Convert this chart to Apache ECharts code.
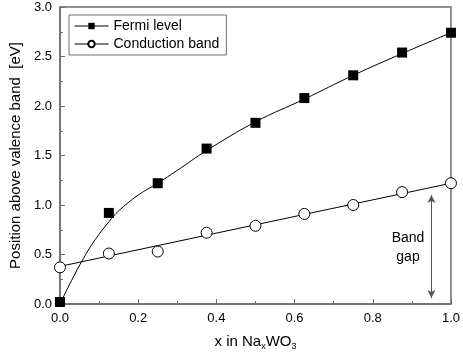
<!DOCTYPE html>
<html>
<head>
<meta charset="utf-8">
<script src="https://cdn.jsdelivr.net/npm/echarts@6/dist/echarts.min.js"></script>
<style>
  html, body { margin: 0; padding: 0; background: #fff; }
  #chart { width: 463px; height: 356px; }
</style>
</head>
<body>
<div id="chart"></div>
<script>
// measured points
var xValues = [0, 0.125, 0.25, 0.375, 0.5, 0.625, 0.75, 0.875, 1.0];
var fermiLevel = [0.02, 0.92, 1.22, 1.57, 1.83, 2.08, 2.31, 2.54, 2.74];
var conductionBand = [0.37, 0.51, 0.53, 0.72, 0.79, 0.91, 1.0, 1.13, 1.22];

// fitted curves
var fermiFitX = [0, 0.03, 0.06, 0.09, 0.125, 0.15, 0.2, 0.25, 0.3, 0.375, 0.5, 0.625, 0.75, 0.875, 1.0];
var fermiFitY = [0, 0.24, 0.46, 0.65, 0.83, 0.94, 1.1, 1.22, 1.35, 1.55, 1.84, 2.07, 2.31, 2.53, 2.74];
var condFitX = [0, 1.0];
var condFitY = [0.38, 1.22];

// band gap arrow
var gapX = 0.95;
var gapTop = 1.1;
var gapBottom = 0.06;

function pairs(xs, ys) {
  return xs.map(function (x, i) { return [x, ys[i]]; });
}

var chart = echarts.init(document.getElementById('chart'));
var font = 'Liberation Sans, Arial, sans-serif';

chart.setOption({
  animation: false,
  textStyle: { fontFamily: font },
  grid: {
    left: 52, right: 10, top: 7, bottom: 52,
    show: true,
    borderColor: '#6e6e6e',
    borderWidth: 1.5
  },
  legend: {
    left: 69, top: 15,
    orient: 'vertical',
    padding: [4, 7, 4, 5],
    itemGap: 4,
    itemWidth: 34,
    itemHeight: 8,
    borderColor: '#6e6e6e',
    borderWidth: 1,
    lineStyle: { opacity: 1, color: '#000', width: 1 },
    textStyle: { color: '#000', fontSize: 14, fontFamily: font },
    data: ['Fermi level', 'Conduction band']
  },
  xAxis: {
    type: 'value',
    min: 0, max: 1.0, interval: 0.2,
    name: 'x in Na{sub|x}WO{sub|3}',
    nameLocation: 'middle',
    nameGap: 29,
    nameTextStyle: {
      color: '#000', fontSize: 15, fontFamily: font,
      rich: { sub: { fontSize: 9, verticalAlign: 'bottom', padding: [9, 0, 0, 0] } }
    },
    axisLine: { lineStyle: { color: '#6e6e6e', width: 1.5 } },
    axisTick: { inside: true, length: 5, lineStyle: { color: '#6e6e6e' } },
    minorTick: { show: true, splitNumber: 2, length: 3, lineStyle: { color: '#6e6e6e' } },
    splitLine: { show: false },
    axisLabel: {
      color: '#000', fontSize: 13, margin: 8,
      formatter: function (v) { return v.toFixed(1); }
    }
  },
  yAxis: {
    type: 'value',
    min: 0, max: 3.0, interval: 0.5,
    name: 'Position above valence band  [eV]',
    nameLocation: 'middle',
    nameGap: 36,
    nameTextStyle: { color: '#000', fontSize: 15, fontFamily: font },
    axisLine: { lineStyle: { color: '#6e6e6e', width: 1.5 } },
    axisTick: { inside: true, length: 5, lineStyle: { color: '#6e6e6e' } },
    minorTick: { show: true, splitNumber: 2, length: 3, lineStyle: { color: '#6e6e6e' } },
    splitLine: { show: false },
    axisLabel: {
      color: '#000', fontSize: 13, margin: 8,
      formatter: function (v) { return v.toFixed(1); }
    }
  },
  series: [
    {
      name: 'Fermi fit',
      type: 'line',
      data: pairs(fermiFitX, fermiFitY),
      smooth: 0.4,
      showSymbol: false,
      lineStyle: { color: '#000', width: 1 },
      z: 1
    },
    {
      name: 'Conduction fit',
      type: 'line',
      data: pairs(condFitX, condFitY),
      showSymbol: false,
      lineStyle: { color: '#000', width: 1 },
      z: 1,
      markLine: {
        silent: true,
        symbol: ['arrow', 'arrow'],
        symbolSize: [6, 8],
        label: { show: false },
        lineStyle: { color: '#555', width: 1, type: 'solid' },
        data: [[{ coord: [gapX, gapTop] }, { coord: [gapX, gapBottom] }]]
      }
    },
    {
      name: 'Fermi level',
      type: 'line',
      data: pairs(xValues, fermiLevel),
      lineStyle: { color: '#000', width: 1, opacity: 0 },
      symbol: 'rect',
      symbolSize: 10,
      showAllSymbol: true,
      itemStyle: { color: '#000' },
      z: 3
    },
    {
      name: 'Conduction band',
      type: 'line',
      data: pairs(xValues, conductionBand),
      lineStyle: { color: '#000', width: 1, opacity: 0 },
      symbol: 'circle',
      symbolSize: 11,
      showAllSymbol: true,
      itemStyle: { color: '#fff', borderColor: '#000', borderWidth: 1 },
      z: 3
    }
  ],
  graphic: [
    {
      type: 'text',
      x: 408, y: 229,
      style: {
        text: 'Band\ngap',
        fill: '#000',
        font: '14px ' + font,
        align: 'center',
        verticalAlign: 'top',
        lineHeight: 19
      }
    }
  ]
});
</script>
</body>
</html>
